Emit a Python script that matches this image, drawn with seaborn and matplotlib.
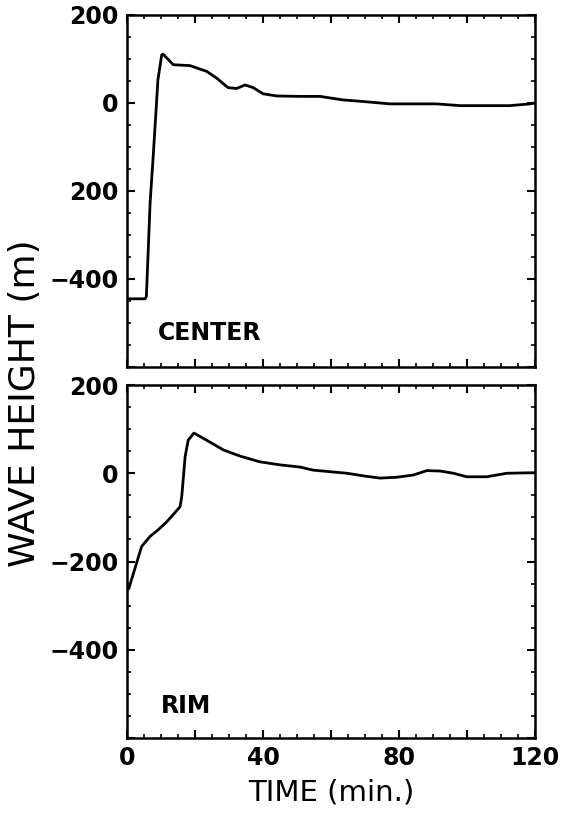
import matplotlib
matplotlib.use("Agg")
import matplotlib.pyplot as plt
from matplotlib.ticker import FixedLocator, FixedFormatter, MultipleLocator
import seaborn as sns
import pandas as pd

# ---- data ----
center_t = [0, 5.3, 5.7, 6.8, 7.7, 9.1, 10.2, 10.6, 12, 13.6, 18.5, 23.4, 26.3, 29.7,
            32.3, 34.7, 37.1, 40, 44, 50.9, 56.8, 63.5, 68.5, 77.4, 91, 98, 112.6, 118.5, 120]
center_v = [-445, -445, -440, -226, -122, 53, 109, 111, 100, 87, 85, 72, 57, 35,
            33, 41, 35, 21, 16, 15, 15, 7, 4, -2, -2, -6, -6, -2, 0]

rim_t = [0, 0.5, 4.3, 6.8, 9.2, 11.7, 15.6, 16.1, 17.1, 18, 19.7, 23.4, 28.3, 33.2, 39,
         45, 50.9, 54.8, 64.7, 69.6, 74.4, 79.4, 84.2, 88.2, 92.1, 96, 99.9, 105.8,
         111.7, 118.5, 120]
rim_v = [-255, -262, -166, -143, -128, -110, -76, -53, 38, 75, 91, 75, 53, 39, 26,
         19, 14, 7, 0, -6, -11, -9, -4, 6, 5, 0, -8, -8, 0, 1, 1]

panel_names = ["CENTER", "RIM"]
x_major = [0, 20, 40, 60, 80, 100, 120]
x_labels = ["0", "", "40", "", "80", "", "120"]
y_major = [-600, -400, -200, 0, 200]
y_labels_top = ["", "\u2212400", "200", "0", "200"]
y_labels_bottom = ["", "\u2212400", "\u2212200", "0", "200"]

sns.set_theme(style="ticks")
plt.rcParams["font.family"] = ["DejaVu Sans"]
plt.rcParams["text.color"] = "black"
plt.rcParams["xtick.color"] = "black"
plt.rcParams["ytick.color"] = "black"
plt.rcParams["axes.labelcolor"] = "black"

fig = plt.figure(figsize=(5.61, 8.13), dpi=100)
W, H = 561, 813
def axbox(l, t, r, b):
    return [l / W, 1 - b / H, (r - l) / W, (b - t) / H]

ax1 = fig.add_axes(axbox(127, 15, 535, 367))
ax2 = fig.add_axes(axbox(127, 385, 535, 738))

df_c = pd.DataFrame({"t": center_t, "v": center_v})
df_r = pd.DataFrame({"t": rim_t, "v": rim_v})

for ax, df, name, ylabs, off in [(ax1, df_c, panel_names[0], y_labels_top, (31, 22)),
                                 (ax2, df_r, panel_names[1], y_labels_bottom, (34, 20))]:
    sns.lineplot(data=df, x="t", y="v", ax=ax, color="black", linewidth=2.0,
                 estimator=None, sort=False)
    ax.set_xlim(0, 120)
    ax.set_ylim(-600, 200)
    ax.xaxis.set_major_locator(FixedLocator(x_major))
    ax.xaxis.set_minor_locator(MultipleLocator(5))
    ax.yaxis.set_major_locator(FixedLocator(y_major))
    ax.yaxis.set_minor_locator(MultipleLocator(50))
    ax.yaxis.set_major_formatter(FixedFormatter(ylabs))
    ax.tick_params(which="both", direction="in", top=True, right=True,
                   color="black", labelcolor="black")
    ax.tick_params(which="major", length=6, width=1.5, labelsize=17, pad=6)
    ax.tick_params(which="minor", length=3, width=1.2)
    for lab in ax.get_yticklabels() + ax.get_xticklabels():
        lab.set_fontweight("bold")
    for s in ax.spines.values():
        s.set_linewidth(1.8)
        s.set_color("black")
        s.set_visible(True)
    ax.set_xlabel("")
    ax.set_ylabel("")
    ax.annotate(name, xy=(0, 0), xycoords="axes fraction",
                xytext=off, textcoords="offset pixels", color="black",
                fontsize=17, fontweight="bold", ha="left", va="bottom")

ax1.xaxis.set_major_formatter(FixedFormatter([""] * len(x_major)))
ax2.xaxis.set_major_formatter(FixedFormatter(x_labels))
for lab in ax2.get_xticklabels():
    lab.set_fontweight("bold")

ax2.set_xlabel("TIME (min.)", fontsize=21, labelpad=6, color="black")
fig.text(25 / W, 1 - 403 / H, "WAVE HEIGHT (m)", rotation=90, fontsize=26,
         ha="center", va="center", color="black")

fig.savefig("out.png", dpi=100)
